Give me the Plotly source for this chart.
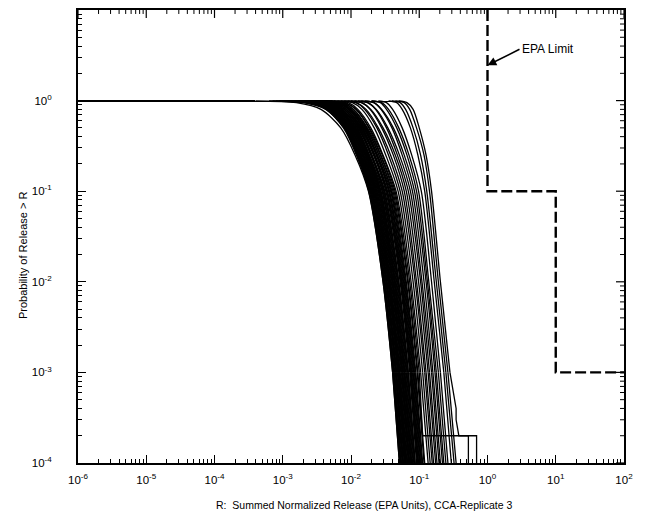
import plotly.graph_objects as go

# Exceedance probabilities at which each CCDF is tabulated
P_LEVELS = [0.99, 0.95, 0.8, 0.5, 0.25, 0.1, 0.01, 0.001, 0.0001]

# Release at the left edge of the plot (every CCDF equals 1 there)
R_START = 1e-6
# Probability used for the final drop to zero, below the axis range
P_ZERO = 1e-6

# log10(R) of each realisation's CCDF at P_LEVELS
LOG_R = [
    [-3.40, -2.80, -2.44, -2.15, -1.94, -1.745, -1.53, -1.39, -1.29],
    [-3.05, -2.62, -2.35, -2.10, -1.91, -1.73, -1.52, -1.38, -1.28],
    [-3.20, -2.70, -2.37, -2.10, -1.90, -1.715, -1.51, -1.37, -1.27],
    [-2.90, -2.55, -2.31, -2.07, -1.88, -1.70, -1.49, -1.35, -1.25],
    [-3.10, -2.62, -2.32, -2.07, -1.87, -1.69, -1.48, -1.34, -1.24],
    [-2.85, -2.50, -2.28, -2.04, -1.86, -1.675, -1.47, -1.33, -1.23],
    [-3.00, -2.58, -2.29, -2.04, -1.85, -1.66, -1.45, -1.31, -1.21],
    [-2.80, -2.45, -2.25, -2.02, -1.83, -1.65, -1.44, -1.30, -1.20],
    [-2.95, -2.52, -2.26, -2.01, -1.82, -1.635, -1.43, -1.29, -1.19],
    [-2.75, -2.42, -2.22, -1.99, -1.80, -1.62, -1.41, -1.27, -1.17],
    [-2.90, -2.48, -2.23, -1.98, -1.79, -1.61, -1.40, -1.26, -1.16],
    [-2.70, -2.38, -2.19, -1.97, -1.78, -1.60, -1.39, -1.25, -1.15],
    [-2.85, -2.44, -2.20, -1.96, -1.77, -1.585, -1.38, -1.24, -1.14],
    [-2.65, -2.35, -2.16, -1.94, -1.75, -1.57, -1.36, -1.22, -1.12],
    [-2.80, -2.40, -2.17, -1.93, -1.74, -1.56, -1.35, -1.21, -1.11],
    [-2.60, -2.32, -2.13, -1.91, -1.73, -1.545, -1.34, -1.20, -1.10],
    [-2.75, -2.36, -2.13, -1.90, -1.71, -1.53, -1.32, -1.18, -1.08],
    [-2.55, -2.28, -2.10, -1.89, -1.70, -1.52, -1.31, -1.17, -1.07],
    [-2.70, -2.32, -2.10, -1.87, -1.69, -1.505, -1.30, -1.16, -1.06],
    [-2.50, -2.24, -2.07, -1.86, -1.67, -1.49, -1.28, -1.14, -1.04],
    [-2.65, -2.28, -2.07, -1.85, -1.66, -1.48, -1.27, -1.13, -1.03],
    [-2.45, -2.20, -2.04, -1.83, -1.65, -1.465, -1.26, -1.12, -1.02],
    [-2.60, -2.24, -2.03, -1.82, -1.63, -1.45, -1.25, -1.11, -1.01],
    [-2.40, -2.17, -2.01, -1.80, -1.62, -1.435, -1.23, -1.09, -0.99],
    [-2.55, -2.20, -2.00, -1.79, -1.61, -1.42, -1.22, -1.08, -0.98],
    [-2.35, -2.12, -1.97, -1.77, -1.59, -1.40, -1.20, -1.06, -0.96],
    [-2.50, -2.16, -1.96, -1.76, -1.57, -1.385, -1.19, -1.05, -0.95],
    [-2.30, -2.08, -1.93, -1.74, -1.56, -1.37, -1.17, -1.03, -0.93],
    [-2.45, -2.12, -1.92, -1.73, -1.54, -1.355, -1.16, -1.02, -0.92],
    [-2.25, -2.04, -1.90, -1.71, -1.53, -1.34, -1.14, -1.00, -0.90],
    [-2.20, -1.98, -1.84, -1.66, -1.49, -1.31, -1.12, -0.98, -0.87],
    [-2.10, -1.92, -1.80, -1.62, -1.45, -1.28, -1.09, -0.95, -0.84],
    [-2.15, -1.93, -1.78, -1.60, -1.42, -1.25, -1.06, -0.92, -0.81],
    [-2.00, -1.84, -1.72, -1.55, -1.38, -1.22, -1.04, -0.90, -0.79],
    [-2.05, -1.85, -1.71, -1.53, -1.35, -1.19, -1.01, -0.87, -0.76],
    [-1.90, -1.75, -1.64, -1.48, -1.32, -1.16, -0.98, -0.85, -0.74],
    [-1.95, -1.76, -1.63, -1.46, -1.29, -1.13, -0.96, -0.82, -0.71],
    [-1.80, -1.66, -1.56, -1.40, -1.25, -1.10, -0.93, -0.80, -0.69],
    [-1.85, -1.67, -1.55, -1.38, -1.22, -1.07, -0.90, -0.77, -0.66],
    [-1.70, -1.57, -1.48, -1.33, -1.18, -1.04, -0.88, -0.75, -0.64],
    [-1.70, -1.55, -1.45, -1.30, -1.15, -1.01, -0.86, -0.72, -0.61],
    [-1.60, -1.48, -1.39, -1.25, -1.11, -0.97, -0.82, -0.69, -0.58],
    [-1.45, -1.33, -1.25, -1.13, -1.02, -0.92, -0.78, -0.64, -0.53],
    [-1.40, -1.28, -1.20, -1.09, -0.98, -0.89, -0.75, -0.61, -0.49],
    [-1.35, -1.22, -1.14, -1.04, -0.93, -0.85, -0.72, -0.58, -0.46],
    [-1.30, -1.18, -1.09, -1.00, -0.90, -0.82, -0.69, -0.55, -0.42],
    [-3.00, -2.62, -2.36, -2.11, -1.92, -1.74, -1.53, -1.39, -1.29],
    [-3.15, -2.66, -2.35, -2.09, -1.90, -1.72, -1.51, -1.37, -1.27],
    [-2.95, -2.58, -2.33, -2.08, -1.89, -1.705, -1.50, -1.36, -1.26],
    [-3.05, -2.60, -2.31, -2.06, -1.87, -1.685, -1.48, -1.34, -1.24],
    [-2.90, -2.54, -2.29, -2.05, -1.86, -1.67, -1.46, -1.32, -1.22],
    [-3.00, -2.56, -2.28, -2.03, -1.84, -1.655, -1.45, -1.31, -1.21],
    [-2.85, -2.49, -2.25, -2.01, -1.82, -1.64, -1.43, -1.29, -1.19],
    [-2.95, -2.52, -2.25, -2.00, -1.81, -1.625, -1.42, -1.28, -1.18],
    [-2.80, -2.44, -2.20, -1.97, -1.78, -1.595, -1.39, -1.25, -1.15],
    [-2.70, -2.38, -2.18, -1.95, -1.76, -1.58, -1.37, -1.23, -1.13],
    [-2.85, -2.42, -2.18, -1.94, -1.75, -1.565, -1.36, -1.22, -1.12],
    [-2.65, -2.34, -2.14, -1.92, -1.73, -1.54, -1.33, -1.19, -1.09],
    [-2.60, -2.30, -2.10, -1.88, -1.70, -1.51, -1.30, -1.16, -1.06],
    [-2.55, -2.25, -2.06, -1.84, -1.65, -1.47, -1.26, -1.12, -1.02],
    [-2.50, -2.20, -2.02, -1.81, -1.62, -1.44, -1.24, -1.10, -1.00],
    [-2.45, -2.16, -1.99, -1.78, -1.59, -1.41, -1.21, -1.07, -0.97],
]

# Realisations whose lowest-probability steps are wide: (log10 R, P) after P = 1e-3
TAIL_STEPS = {
    29: [(-0.95, 2e-4), (-0.16, 2e-4), (-0.16, 1e-4)],
    45: [(-0.46, 4e-4), (-0.46, 3e-4), (-0.42, 2e-4), (-0.28, 2e-4), (-0.28, 1e-4)],
}

# EPA release limits
EPA_R = [1, 1, 10, 10, 100]
EPA_P = [10, 0.1, 0.1, 0.001, 0.001]

X_RANGE = [-6, 2]
Y_RANGE = [-4, 1]
X_TICKVALS = [1e-6, 1e-5, 1e-4, 1e-3, 1e-2, 1e-1, 1e0, 1e1, 1e2]
X_TICKTEXT = ["10<sup>-6</sup>", "10<sup>-5</sup>", "10<sup>-4</sup>", "10<sup>-3</sup>",
              "10<sup>-2</sup>", "10<sup>-1</sup>", "10<sup>0</sup>", "10<sup>1</sup>",
              "10<sup>2</sup>"]
Y_TICKVALS = [1e-4, 1e-3, 1e-2, 1e-1, 1e0, 1e1]
Y_TICKTEXT = ["10<sup>-4</sup>", "10<sup>-3</sup>", "10<sup>-2</sup>", "10<sup>-1</sup>",
              "10<sup>0</sup>", ""]

FONT = "Liberation Sans, Arial, sans-serif"
INK = "black"
LINE_W = 1.3

WIDTH, HEIGHT = 645, 522
MARGIN = dict(l=78, r=21, t=8, b=59)
PLOT_W = WIDTH - MARGIN["l"] - MARGIN["r"]
PLOT_H = HEIGHT - MARGIN["t"] - MARGIN["b"]
MAJOR_LEN, MINOR_LEN = 8, 4


def minor_ticks(decades):
    return [m * d for d in decades for m in range(2, 10)]


fig = go.Figure()

i_last = P_LEVELS.index(0.001)

# Smoothed shoulder and fall of every CCDF (P = 0.99 down to 1e-3)
for row in LOG_R:
    xs = [10 ** v for v in row[:i_last + 1]]
    ys = P_LEVELS[:i_last + 1]
    fig.add_trace(go.Scatter(x=xs, y=ys, mode="lines",
                             line=dict(color=INK, width=LINE_W, shape="spline", smoothing=0.8),
                             hoverinfo="skip", showlegend=False))

# Plateau at P = 1, low-probability step tails and the final drop to zero
lin_x, lin_y = [], []
for i, row in enumerate(LOG_R):
    lin_x += [R_START, 10 ** row[0], None]
    lin_y += [1.0, P_LEVELS[0], None]
    pts = [(row[i_last], P_LEVELS[i_last])]
    if i in TAIL_STEPS:
        pts += TAIL_STEPS[i]
    else:
        pts.append((row[-1], P_LEVELS[-1]))
    pts.append((pts[-1][0], P_ZERO))
    lin_x += [10 ** p[0] for p in pts] + [None]
    lin_y += [p[1] for p in pts] + [None]
fig.add_trace(go.Scatter(x=lin_x, y=lin_y, mode="lines",
                         line=dict(color=INK, width=LINE_W),
                         hoverinfo="skip", showlegend=False))

# EPA limit step line
fig.add_trace(go.Scatter(x=EPA_R, y=EPA_P, mode="lines",
                         line=dict(color=INK, width=2.4, dash="11px,4px"),
                         hoverinfo="skip", showlegend=False))

# Inward ticks along the top and right edges of the frame
x_top = 10 ** X_RANGE[1]
y_top = 10 ** Y_RANGE[1]
dec_px_x = PLOT_W / (X_RANGE[1] - X_RANGE[0])
dec_px_y = PLOT_H / (Y_RANGE[1] - Y_RANGE[0])
for vals, length, width in ((X_TICKVALS, MAJOR_LEN, 1.2),
                            (minor_ticks(X_TICKVALS[:-1]), MINOR_LEN, 1)):
    tx, ty = [], []
    for v in vals:
        tx += [v, v, None]
        ty += [y_top, 10 ** (Y_RANGE[1] - length / dec_px_y), None]
    fig.add_trace(go.Scatter(x=tx, y=ty, mode="lines", line=dict(color=INK, width=width),
                             hoverinfo="skip", showlegend=False))
for vals, length, width in ((Y_TICKVALS[:-1], MAJOR_LEN, 1.2),
                            (minor_ticks(Y_TICKVALS[:-1]), MINOR_LEN, 1)):
    tx, ty = [], []
    for v in vals:
        tx += [x_top, 10 ** (X_RANGE[1] - length / dec_px_x), None]
        ty += [v, v, None]
    fig.add_trace(go.Scatter(x=tx, y=ty, mode="lines", line=dict(color=INK, width=width),
                             hoverinfo="skip", showlegend=False))

fig.add_annotation(x=0, y=0.39, xref="x", yref="y", text="EPA Limit",
                   showarrow=True, arrowhead=2, arrowsize=1.1, arrowwidth=1.6,
                   arrowcolor=INK, ax=32, ay=-16, xanchor="left", yanchor="middle",
                   font=dict(family=FONT, size=12, color=INK))

tick_style = dict(
    type="log", ticks="inside", ticklen=MAJOR_LEN, tickwidth=1.2, tickcolor=INK,
    showgrid=False, zeroline=False, tickmode="array",
    showline=True, linecolor=INK, linewidth=2, mirror=True,
    tickfont=dict(family=FONT, size=11.5, color=INK),
)
minor_x = dict(tickmode="array", tickvals=minor_ticks(X_TICKVALS[:-1]),
               ticks="inside", ticklen=MINOR_LEN, tickwidth=1, tickcolor=INK, showgrid=False)
minor_y = dict(tickmode="array", tickvals=minor_ticks(Y_TICKVALS[:-1]),
               ticks="inside", ticklen=MINOR_LEN, tickwidth=1, tickcolor=INK, showgrid=False)

fig.update_layout(
    xaxis=dict(range=X_RANGE, tickvals=X_TICKVALS, ticktext=X_TICKTEXT,
               ticklabelstandoff=5, minor=minor_x, **tick_style),
    yaxis=dict(range=Y_RANGE, tickvals=Y_TICKVALS, ticktext=Y_TICKTEXT,
               ticklabelstandoff=22, minor=minor_y, **tick_style),
)

fig.add_annotation(text="Probability of Release > R", xref="paper", yref="paper",
                   x=0, y=0.459, xshift=-63, textangle=-90, showarrow=False,
                   font=dict(family=FONT, size=11, color=INK))
fig.add_annotation(text="R:  Summed Normalized Release (EPA Units), CCA-Replicate 3",
                   xref="paper", yref="paper", x=0.524, y=-0.093, yanchor="middle",
                   showarrow=False, font=dict(family=FONT, size=10.5, color=INK))

fig.update_layout(
    width=WIDTH, height=HEIGHT,
    margin=MARGIN,
    paper_bgcolor="white", plot_bgcolor="white",
    showlegend=False,
)

fig.write_html("out.html")
